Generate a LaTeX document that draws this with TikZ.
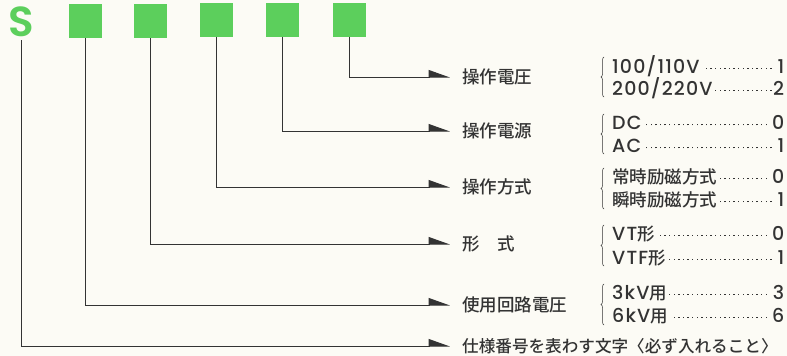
\documentclass[tikz,border=0pt]{standalone}
\usepackage{fontspec}
\setmainfont{Poppins}[UprightFont=* Medium, BoldFont=* SemiBold]
\newfontfamily\lat{Poppins}[UprightFont=* Medium, LetterSpace=6]
\newfontfamily\cjk{Noto Sans CJK JP Medium}
\usetikzlibrary{arrows.meta,decorations.pathreplacing}
\definecolor{sgreen}{HTML}{5CCF5C}
\definecolor{ink}{HTML}{333333}
\definecolor{paper}{HTML}{FCFBF5}
\newcommand\dotlead{\leaders\hbox to 4.6pt{\hss\raisebox{4.5pt}{\rule{1.3pt}{1.3pt}}\hss}\hfill}
\newcommand\entryline[2]{\hbox to 172pt{#1\dotlead#2}}
\begin{document}
\begin{tikzpicture}[x=1pt,y=1pt,
  digit/.style={fill=sgreen, minimum width=33pt, minimum height=34pt, inner sep=0pt},
  conn/.style={draw=ink, line width=1pt, -{Triangle[harpoon,width=14pt,length=20pt]}},
  lab/.style={anchor=west, inner sep=0pt, font=\cjk\fontsize{17.5}{17.5}\selectfont, text=ink},
  entry/.style={anchor=west, inner sep=0pt, font=\lat\fontsize{19}{19}\selectfont, text=ink},
  brc/.style={draw=ink, line width=0.5pt, decorate, decoration={brace, amplitude=3pt}}]
\fill[paper] (0,0) rectangle (787,-356);
\useasboundingbox (0,0) rectangle (787,-356);

\node[text=sgreen, font=\bfseries\fontsize{42}{42}\selectfont, inner sep=0pt] (s) at (21,-22) {S};
\node[digit] (b1) at (85,-21) {};
\node[digit] (b2) at (150,-21) {};
\node[digit] (b3) at (216,-20) {};
\node[digit] (b4) at (282,-20) {};
\node[digit] (b5) at (349,-20) {};

\node[lab] (l1) at (462,-77) {操作電圧};
\node[lab] (l2) at (462,-131) {操作電源};
\node[lab] (l3) at (462,-187) {操作方式};
\node[lab] (l4) at (462,-244) {形　式};
\node[lab] (l5) at (462,-305) {使用回路電圧};
\node[lab, font=\cjk\fontsize{16.6}{16.6}\selectfont] (l6) at (462,-346) {仕様番号を表わす文字〈必ず入れること〉};

\draw[conn] (b5.south) |- ([xshift=-12pt]l1.west);
\draw[conn] (b4.south) |- ([xshift=-12pt]l2.west);
\draw[conn] (b3.south) |- ([xshift=-12pt]l3.west);
\draw[conn] (b2.south) |- ([xshift=-12pt]l4.west);
\draw[conn] (b1.south) |- ([xshift=-12pt]l5.west);
\draw[conn] ([yshift=-3pt]s.south) |- ([xshift=-12pt]l6.west);

\node[entry] (e11) at (612,-66) {\entryline{100/110V}{1}};
\node[entry] (e12) at (612,-88) {\entryline{200/220V}{2}};
\node[entry] (e21) at (612,-123) {\entryline{DC}{0}};
\node[entry] (e22) at (612,-146) {\entryline{AC}{1}};
\node[entry] (e31) at (612,-177) {\entryline{{\cjk\fontsize{17.5}{17.5}\selectfont 常時励磁方式}}{0}};
\node[entry] (e32) at (612,-200) {\entryline{{\cjk\fontsize{17.5}{17.5}\selectfont 瞬時励磁方式}}{1}};
\node[entry] (e41) at (612,-234) {\entryline{VT{\cjk\fontsize{17.5}{17.5}\selectfont 形}}{0}};
\node[entry] (e42) at (612,-258) {\entryline{VTF{\cjk\fontsize{17.5}{17.5}\selectfont 形}}{1}};
\node[entry] (e51) at (612,-293) {\entryline{3kV{\cjk\fontsize{17.5}{17.5}\selectfont 用}}{3}};
\node[entry] (e52) at (612,-316) {\entryline{6kV{\cjk\fontsize{17.5}{17.5}\selectfont 用}}{6}};

\draw[brc] (604,-97) -- (604,-57);
\draw[brc] (604,-154) -- (604,-114);
\draw[brc] (604,-209) -- (604,-168);
\draw[brc] (604,-266) -- (604,-225);
\draw[brc] (604,-325) -- (604,-284);
\end{tikzpicture}
\end{document}
